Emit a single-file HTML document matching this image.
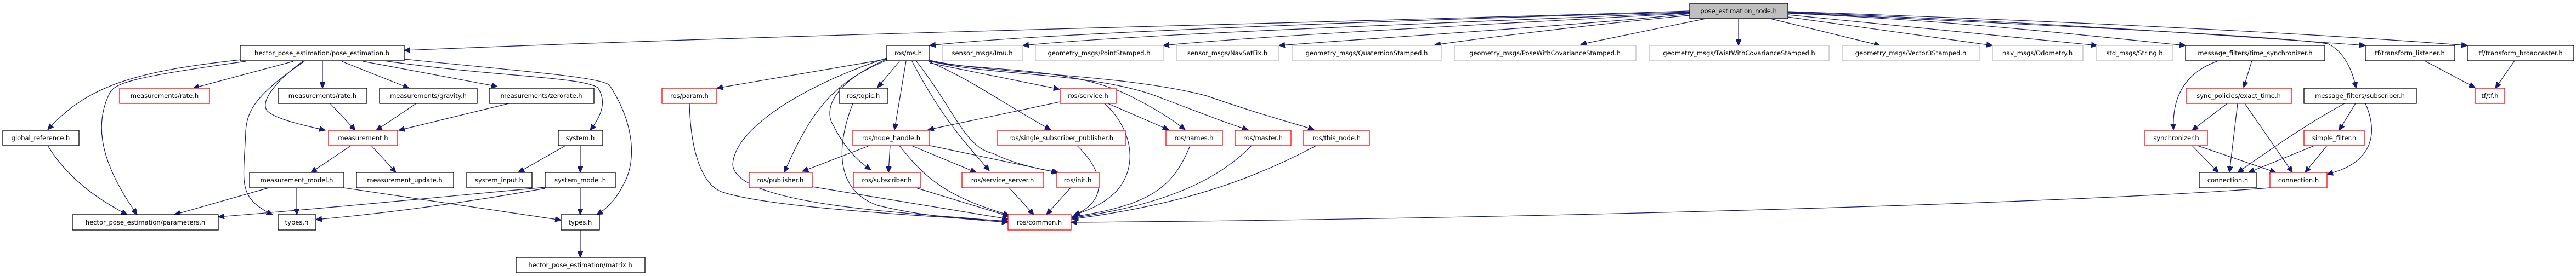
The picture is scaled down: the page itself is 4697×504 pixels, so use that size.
<!DOCTYPE html>
<html><head><meta charset="utf-8"><style>
html,body{margin:0;padding:0;background:#fff;}
svg{display:block;}
text{font-family:"DejaVu Sans","Liberation Sans",sans-serif;font-size:11.5px;fill:#000;text-anchor:middle;}
.b{fill:#fff;stroke:#000;stroke-width:1.3}
.r{fill:#fff;stroke:#ff0000;stroke-width:1.3}
.g{fill:#fff;stroke:#bfbfbf;stroke-width:1.3}
.e{fill:none;stroke:#191970;stroke-width:1.2}
</style></head><body>
<svg width="4697" height="504" viewBox="0 0 4697 504" xmlns="http://www.w3.org/2000/svg">
<defs><marker id="a" markerUnits="userSpaceOnUse" markerWidth="12" markerHeight="10" refX="11" refY="5" orient="auto"><path d="M0,0 L11,5 L0,10 z" fill="#191970" stroke="#191970"/></marker></defs>
<g class="e" marker-end="url(#a)">
<path d="M3081,20 C2500,40 1500,60 737,92"/>
<path d="M3081,22 C2600,35 1900,60 1695,83"/>
<path d="M3081,23 C2700,40 2100,60 1865,83"/>
<path d="M3081,24 C2800,40 2300,65 2121,83"/>
<path d="M3081,25 C2900,45 2500,70 2332,83"/>
<path d="M3081,28 C2900,45 2700,70 2616,82"/>
<path d="M3110,34 L2882,81"/>
<path d="M3170,34 L3170,83"/>
<path d="M3228,34 L3428,83"/>
<path d="M3260,31 L3633,83"/>
<path d="M3260,27 L3824,83"/>
<path d="M3260,24 C3600,40 3800,65 3985,83"/>
<path d="M3260,22 C3700,40 4000,60 4313,83"/>
<path d="M3260,21 C3800,40 4200,60 4499,83"/>
<path d="M3260,23 C3700,45 4150,65 4245,80 C4275,95 4290,130 4296,161"/>
<path d="M440,109 C250,130 160,155 87,237"/>
<path d="M448,112 C250,140 210,150 200,170 C170,230 185,300 250,392"/>
<path d="M535,112 L352,161"/>
<path d="M552,112 C500,150 470,190 490,205 C510,220 560,230 593,238"/>
<path d="M555,112 C470,170 450,200 448,240 C445,330 430,360 497,392"/>
<path d="M588,111 L588,161"/>
<path d="M623,112 L746,161"/>
<path d="M662,112 L907,158"/>
<path d="M700,111 C900,140 1060,140 1090,160 C1110,190 1090,220 1076,238"/>
<path d="M737,108 C950,130 1090,140 1111,155 C1160,230 1160,300 1135,340 C1120,370 1100,385 1088,392"/>
<path d="M1617,108 L1307,161"/>
<path d="M1640,112 L1600,160"/>
<path d="M1652,112 L1631,237"/>
<path d="M1617,110 C1520,150 1480,200 1430,315"/>
<path d="M1617,108 C1520,150 1500,200 1520,230 C1540,270 1565,295 1588,310"/>
<path d="M1617,106 C1480,150 1340,230 1336,300 C1340,380 1700,390 1838,405"/>
<path d="M1663,112 C1720,220 1760,260 1804,312"/>
<path d="M1671,112 C1740,200 1760,270 1810,280 C1850,300 1900,310 1930,315"/>
<path d="M1693,112 C1780,150 1830,190 1916,237"/>
<path d="M1695,115 L1932,163"/>
<path d="M1695,112 C1780,130 1950,120 2060,175 C2110,200 2140,220 2161,237"/>
<path d="M1695,111 C1800,140 2000,130 2120,180 C2200,210 2250,230 2276,237"/>
<path d="M1695,110 C1800,135 2050,135 2200,175 C2300,210 2370,228 2396,237"/>
<path d="M1933,186 L1692,237"/>
<path d="M2020,189 L2131,237"/>
<path d="M2014,189 C2060,230 2080,300 2035,350 C2010,375 1980,385 1958,393"/>
<path d="M1623,266 L1620,315"/>
<path d="M1588,265 L1463,313"/>
<path d="M1662,266 L1780,315"/>
<path d="M1696,266 L1928,315"/>
<path d="M1640,266 C1690,330 1730,360 1840,393"/>
<path d="M1964,266 C2020,320 2015,370 1958,393"/>
<path d="M2170,266 C2140,340 2100,375 1955,396"/>
<path d="M2282,266 C2220,330 2120,375 1955,398"/>
<path d="M2400,266 C2280,330 2150,375 1955,400"/>
<path d="M1481,341 L1838,400"/>
<path d="M1670,343 L1840,395"/>
<path d="M1840,343 L1885,392"/>
<path d="M1952,343 L1908,392"/>
<path d="M1555,189 C1520,280 1530,350 1600,375 C1680,395 1760,400 1838,406"/>
<path d="M1257,189 C1260,300 1290,340 1315,350 C1400,380 1700,395 1838,404"/>
<path d="M4139,343 C3800,370 2800,400 1953,406"/>
<path d="M602,189 L648,238"/>
<path d="M759,189 L686,238"/>
<path d="M928,189 L727,238"/>
<path d="M640,266 L567,315"/>
<path d="M677,266 L722,315"/>
<path d="M87,266 C120,320 170,360 232,392"/>
<path d="M490,343 L318,392"/>
<path d="M541,343 L541,392"/>
<path d="M627,343 L1023,402"/>
<path d="M1031,266 L945,315"/>
<path d="M1058,266 L1058,315"/>
<path d="M1058,343 L1058,392"/>
<path d="M994,342 C800,360 600,380 398,396"/>
<path d="M994,344 C850,370 700,390 576,401"/>
<path d="M1058,420 L1058,470"/>
<path d="M4045,111 C3990,130 3960,170 3963,237"/>
<path d="M4106,111 L4091,160"/>
<path d="M4061,189 L3997,238"/>
<path d="M4080,189 L4065,315"/>
<path d="M4093,189 L4180,315"/>
<path d="M3997,266 L4045,315"/>
<path d="M4007,266 L4150,315"/>
<path d="M4275,189 C4200,230 4130,280 4080,315"/>
<path d="M4295,189 L4265,238"/>
<path d="M4313,189 C4340,250 4320,300 4243,318"/>
<path d="M4220,266 L4100,315"/>
<path d="M4243,266 L4203,315"/>
<path d="M4421,111 L4513,160"/>
<path d="M4585,111 L4550,161"/>
</g>
<g>
<rect x="3081" y="6" width="179" height="28" fill="#bfbfbf" stroke="#000" stroke-width="1.3"/><text x="3170" y="24">pose_estimation_node.h</text>
<rect class="b" x="438" y="83" width="299" height="28"/><text x="587" y="101">hector_pose_estimation/pose_estimation.h</text>
<rect class="b" x="1617" y="83" width="78" height="28"/><text x="1656" y="101">ros/ros.h</text>
<rect class="g" x="1718" y="83" width="147" height="28"/><text x="1791" y="101">sensor_msgs/Imu.h</text>
<rect class="g" x="1888" y="83" width="233" height="28"/><text x="2004" y="101">geometry_msgs/PointStamped.h</text>
<rect class="g" x="2145" y="83" width="187" height="28"/><text x="2238" y="101">sensor_msgs/NavSatFix.h</text>
<rect class="g" x="2356" y="83" width="272" height="28"/><text x="2492" y="101">geometry_msgs/QuaternionStamped.h</text>
<rect class="g" x="2652" y="83" width="331" height="28"/><text x="2817" y="101">geometry_msgs/PoseWithCovarianceStamped.h</text>
<rect class="g" x="3007" y="83" width="328" height="28"/><text x="3171" y="101">geometry_msgs/TwistWithCovarianceStamped.h</text>
<rect class="g" x="3359" y="83" width="250" height="28"/><text x="3484" y="101">geometry_msgs/Vector3Stamped.h</text>
<rect class="g" x="3633" y="83" width="165" height="28"/><text x="3715" y="101">nav_msgs/Odometry.h</text>
<rect class="g" x="3822" y="83" width="140" height="28"/><text x="3892" y="101">std_msgs/String.h</text>
<rect class="b" x="3985" y="83" width="254" height="28"/><text x="4112" y="101">message_filters/time_synchronizer.h</text>
<rect class="b" x="4313" y="83" width="163" height="28"/><text x="4394" y="101">tf/transform_listener.h</text>
<rect class="b" x="4499" y="83" width="194" height="28"/><text x="4596" y="101">tf/transform_broadcaster.h</text>
<rect class="r" x="218" y="161" width="164" height="28"/><text x="300" y="179">measurements/rate.h</text>
<rect class="b" x="507" y="161" width="162" height="28"/><text x="588" y="179">measurements/rate.h</text>
<rect class="b" x="692" y="161" width="178" height="28"/><text x="781" y="179">measurements/gravity.h</text>
<rect class="b" x="892" y="161" width="191" height="28"/><text x="987" y="179">measurements/zerorate.h</text>
<rect class="r" x="1207" y="161" width="100" height="28"/><text x="1257" y="179">ros/param.h</text>
<rect class="b" x="1530" y="161" width="89" height="28"/><text x="1574" y="179">ros/topic.h</text>
<rect class="r" x="1933" y="161" width="102" height="28"/><text x="1984" y="179">ros/service.h</text>
<rect class="r" x="3986" y="161" width="193" height="28"/><text x="4082" y="179">sync_policies/exact_time.h</text>
<rect class="b" x="4201" y="161" width="205" height="28"/><text x="4303" y="179">message_filters/subscriber.h</text>
<rect class="r" x="4513" y="161" width="54" height="28"/><text x="4540" y="179">tf/tf.h</text>
<rect class="b" x="5" y="238" width="139" height="28"/><text x="74" y="256">global_reference.h</text>
<rect class="r" x="599" y="238" width="126" height="28"/><text x="662" y="256">measurement.h</text>
<rect class="b" x="1018" y="238" width="81" height="28"/><text x="1058" y="256">system.h</text>
<rect class="r" x="1555" y="238" width="140" height="28"/><text x="1625" y="256">ros/node_handle.h</text>
<rect class="r" x="1819" y="238" width="233" height="28"/><text x="1935" y="256">ros/single_subscriber_publisher.h</text>
<rect class="r" x="2126" y="238" width="103" height="28"/><text x="2177" y="256">ros/names.h</text>
<rect class="r" x="2252" y="238" width="102" height="28"/><text x="2303" y="256">ros/master.h</text>
<rect class="r" x="2377" y="238" width="120" height="28"/><text x="2437" y="256">ros/this_node.h</text>
<rect class="r" x="3911" y="238" width="114" height="28"/><text x="3968" y="256">synchronizer.h</text>
<rect class="r" x="4201" y="238" width="110" height="28"/><text x="4256" y="256">simple_filter.h</text>
<rect class="b" x="455" y="315" width="172" height="28"/><text x="541" y="333">measurement_model.h</text>
<rect class="b" x="650" y="315" width="177" height="28"/><text x="738" y="333">measurement_update.h</text>
<rect class="b" x="851" y="315" width="119" height="28"/><text x="910" y="333">system_input.h</text>
<rect class="b" x="994" y="315" width="128" height="28"/><text x="1058" y="333">system_model.h</text>
<rect class="r" x="1366" y="315" width="115" height="28"/><text x="1423" y="333">ros/publisher.h</text>
<rect class="r" x="1556" y="315" width="123" height="28"/><text x="1617" y="333">ros/subscriber.h</text>
<rect class="r" x="1754" y="315" width="149" height="28"/><text x="1828" y="333">ros/service_server.h</text>
<rect class="r" x="1927" y="315" width="77" height="28"/><text x="1965" y="333">ros/init.h</text>
<rect class="b" x="4010" y="315" width="104" height="28"/><text x="4062" y="333">connection.h</text>
<rect class="r" x="4139" y="315" width="104" height="28"/><text x="4191" y="333">connection.h</text>
<rect class="b" x="132" y="392" width="266" height="28"/><text x="265" y="410">hector_pose_estimation/parameters.h</text>
<rect class="b" x="507" y="392" width="69" height="28"/><text x="541" y="410">types.h</text>
<rect class="b" x="1023" y="392" width="70" height="28"/><text x="1058" y="410">types.h</text>
<rect class="r" x="1838" y="392" width="115" height="28"/><text x="1895" y="410">ros/common.h</text>
<rect class="b" x="941" y="470" width="235" height="28"/><text x="1058" y="488">hector_pose_estimation/matrix.h</text>
</g>
</svg>
</body></html>
